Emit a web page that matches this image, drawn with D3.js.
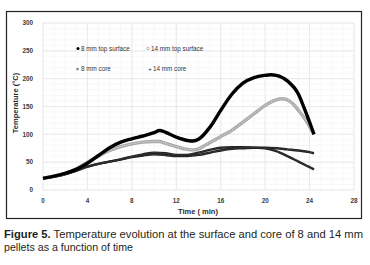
<!DOCTYPE html>
<html>
<head>
<meta charset="utf-8">
<script src="https://cdn.jsdelivr.net/npm/d3@7"></script>
<style>
body { margin: 0; background: #fff; }
svg { display: block; }
</style>
</head>
<body>
<svg id="chart" width="370" height="265"></svg>
<script>
var xTicks = [0, 4, 8, 12, 16, 20, 24, 28];
var yTicks = [0, 50, 100, 150, 200, 250, 300];

var top8Time = [0,1,2,3,4,5,6,7,8,9,10,10.5,11,12,13,13.5,14,15,16,17,18,19,20,20.5,21,22,23,23.5,24,24.4];
var top8Temp = [21,25,30,37,48,62,76,86,92,97,103,107,104,95,89,88,91,112,143,172,192,202,206,207,206,196,172,148,122,100];

var top14Time = [0,1,2,3,4,5,6,7,8,9,10,10.5,11,12,13,13.5,14,15,16,17,18,19,20,21,21.5,22,22.5,23,23.5,24,24.4];
var top14Temp = [21,25,30,38,50,61,71,78,83,86,87,87,84,78,73,72,74,85,96,107,122,137,152,162,164,162,155,143,130,114,100];

var coreTime = [0,1,2,3,4,5,6,7,8,9,10,11,12,13,14,15,16,17,18,19,20,21,22,23,24,24.4];
var core8Temp = [21,24,28,35,42,47,51,55,60,64,67,66,63,63,67,72,76,77,77,76,75,70,61,51,41,37];
var core14Temp = [21,24,29,35,42,47,51,55,59,62,64,63,61,61,63,67,71,74,75,76,76,75,73,71,68,66];

var svg = d3.select("#chart");

// outer frame
svg.append("rect")
	.attr("x", 6.5).attr("y", 11.5)
	.attr("width", 355).attr("height", 207)
	.attr("fill", "none").attr("stroke", "#222").attr("stroke-width", 1.2);

var x = d3.scaleLinear().domain([0, 28]).range([43, 354]);
var y = d3.scaleLinear().domain([0, 300]).range([190, 23]);

// minor grid
svg.append("g").selectAll("line")
	.data(d3.range(0, 29, 1))
	.enter().append("line")
	.attr("x1", function(d){ return x(d); }).attr("x2", function(d){ return x(d); })
	.attr("y1", y(0)).attr("y2", y(300))
	.attr("stroke", "#f4f4f4").attr("stroke-width", 0.6);
svg.append("g").selectAll("line")
	.data(d3.range(0, 301, 10))
	.enter().append("line")
	.attr("x1", x(0)).attr("x2", x(28))
	.attr("y1", function(d){ return y(d); }).attr("y2", function(d){ return y(d); })
	.attr("stroke", "#f4f4f4").attr("stroke-width", 0.6);

// major grid
svg.append("g").selectAll("line")
	.data(xTicks)
	.enter().append("line")
	.attr("x1", function(d){ return x(d); }).attr("x2", function(d){ return x(d); })
	.attr("y1", y(0)).attr("y2", y(300))
	.attr("stroke", "#e4e4e4").attr("stroke-width", 0.8);
svg.append("g").selectAll("line")
	.data(yTicks)
	.enter().append("line")
	.attr("x1", x(0)).attr("x2", x(28))
	.attr("y1", function(d){ return y(d); }).attr("y2", function(d){ return y(d); })
	.attr("stroke", "#e4e4e4").attr("stroke-width", 0.8);

// tick labels
svg.append("g").selectAll("text")
	.data(yTicks)
	.enter().append("text")
	.attr("x", 33).attr("y", function(d){ return y(d) + 2.3; })
	.attr("text-anchor", "end")
	.attr("font-family", "Liberation Sans, Arial, sans-serif")
	.attr("font-size", 6.3).attr("font-weight", "bold").attr("fill", "#3a3a3a")
	.text(function(d){ return d; });
svg.append("g").selectAll("text")
	.data(xTicks)
	.enter().append("text")
	.attr("x", function(d){ return x(d); }).attr("y", 203)
	.attr("text-anchor", "middle")
	.attr("font-family", "Liberation Sans, Arial, sans-serif")
	.attr("font-size", 6.3).attr("font-weight", "bold").attr("fill", "#3a3a3a")
	.text(function(d){ return d; });

// axis titles
svg.append("text")
	.attr("transform", "translate(18,103) rotate(-90)")
	.attr("text-anchor", "middle")
	.attr("font-family", "Liberation Sans Narrow, Liberation Sans, sans-serif")
	.attr("font-size", 7.5).attr("font-weight", "bold").attr("fill", "#2a2a2a")
	.text("Temperature (°C)");
svg.append("text")
	.attr("x", 198).attr("y", 214)
	.attr("text-anchor", "middle")
	.attr("font-family", "Liberation Sans Narrow, Liberation Sans, sans-serif")
	.attr("font-size", 7.5).attr("font-weight", "bold").attr("fill", "#2a2a2a")
	.text("Time ( min)");

// series
function pts(t, v){
	return t.map(function(d, i){ return [d, v[i]]; });
}
var line = d3.line()
	.x(function(d){ return x(d[0]); })
	.y(function(d){ return y(d[1]); })
	.curve(d3.curveMonotoneX);

var series = [
	{data: pts(coreTime, core14Temp), stroke: "#1e1e1e", w: 2.4},
	{data: pts(coreTime, core8Temp), stroke: "#1e1e1e", w: 2.4},
	{data: pts(top14Time, top14Temp), stroke: "#aaaaaa", w: 3.4},
	{data: pts(top8Time, top8Temp), stroke: "#000", w: 3.4}
];

series.forEach(function(s, k){
	svg.append("path")
		.attr("d", line(s.data))
		.attr("fill", "none")
		.attr("stroke", s.stroke)
		.attr("stroke-width", s.w);
	if (k < 2) {
		// marker texture on the core curves
		svg.append("path")
			.attr("d", line(s.data))
			.attr("fill", "none")
			.attr("stroke", "#777")
			.attr("stroke-width", 0.5)
			.attr("stroke-dasharray", "0.8,0.8");
	}
	if (k == 2) {
		// hollow circle look
		svg.append("path")
			.attr("d", line(s.data))
			.attr("fill", "none")
			.attr("stroke", "#e2e2e2")
			.attr("stroke-width", 1)
			.attr("stroke-dasharray", "1,1.2");
	}
});

// legend
var legFont = "Liberation Sans Narrow, Liberation Sans, sans-serif";
svg.append("circle").attr("cx", 78).attr("cy", 48.5).attr("r", 1.5).attr("fill", "#000");
svg.append("circle").attr("cx", 148).attr("cy", 48.5).attr("r", 1.3).attr("fill", "none").attr("stroke", "#999").attr("stroke-width", 0.7);
svg.append("text").attr("x", 77.5).attr("y", 70.5).attr("text-anchor", "middle").attr("font-size", 6).attr("font-family", legFont).attr("fill", "#222").text("×");
svg.append("text").attr("x", 150).attr("y", 70.8).attr("text-anchor", "middle").attr("font-size", 6).attr("font-family", legFont).attr("fill", "#222").text("+");

var legend = [
	{x: 81, y: 50.8, t: "8 mm top surface"},
	{x: 151, y: 50.8, t: "14 mm top surface"},
	{x: 81, y: 70.8, t: "8 mm core"},
	{x: 153, y: 70.8, t: "14 mm core"}
];
svg.append("g").selectAll("text")
	.data(legend)
	.enter().append("text")
	.attr("x", function(d){ return d.x; }).attr("y", function(d){ return d.y; })
	.attr("font-family", legFont)
	.attr("font-size", 6.3).attr("fill", "#333")
	.text(function(d){ return d.t; });

// caption
var cap = svg.append("text")
	.attr("x", 4).attr("y", 237.5)
	.attr("font-family", "Liberation Sans Narrow, Liberation Sans, sans-serif")
	.attr("font-size", 10.8).attr("fill", "#231f20")
	.attr("textLength", 359).attr("lengthAdjust", "spacingAndGlyphs");
cap.append("tspan").attr("font-weight", "bold").text("Figure 5.");
cap.append("tspan").text(" Temperature evolution at the surface and core of 8 and 14 mm");
svg.append("text")
	.attr("x", 4).attr("y", 251)
	.attr("font-family", "Liberation Sans Narrow, Liberation Sans, sans-serif")
	.attr("font-size", 10.8).attr("fill", "#231f20")
	.attr("textLength", 129).attr("lengthAdjust", "spacingAndGlyphs")
	.text("pellets as a function of time");
</script>
</body>
</html>
